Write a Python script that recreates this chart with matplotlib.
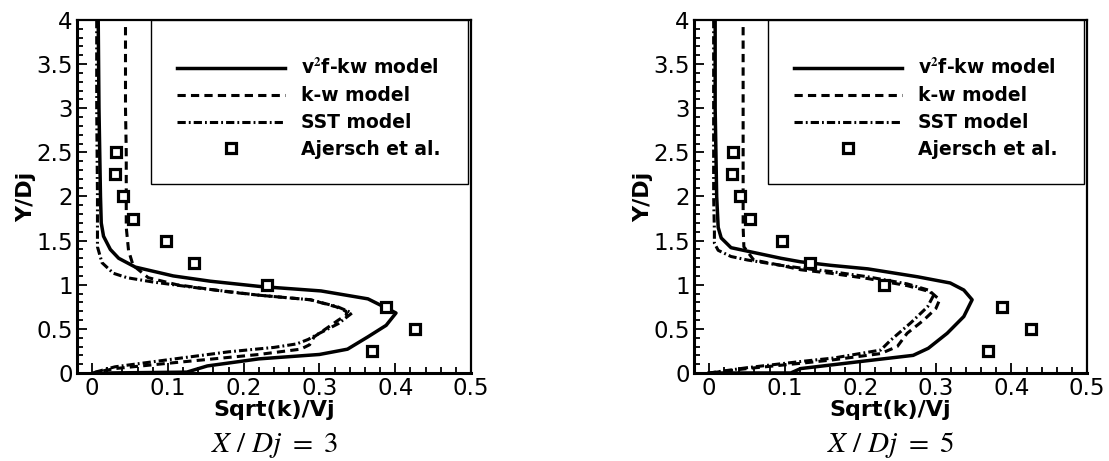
import matplotlib
matplotlib.use("Agg")
import matplotlib.pyplot as plt
from matplotlib.lines import Line2D
from matplotlib.patches import Rectangle
from matplotlib.ticker import MultipleLocator, FuncFormatter

plt.rcParams['font.family'] = ['DejaVu Sans']
plt.rcParams['mathtext.fontset'] = 'stix'

# Measured profiles (Ajersch et al.), identical at both stations
exp_y = [0.25, 0.5, 0.75, 1.0, 1.25, 1.5, 1.75, 2.0, 2.25, 2.5]
exp_k = [0.369, 0.426, 0.388, 0.231, 0.134, 0.097, 0.054, 0.041, 0.030, 0.032]

# X/Dj = 3
v2f3_k = [0.008, 0.009, 0.010, 0.011, 0.012, 0.015, 0.024, 0.035, 0.057, 0.107, 0.156,
          0.222, 0.302, 0.364, 0.385, 0.401, 0.388, 0.364, 0.337, 0.30, 0.22, 0.152,
          0.125, 0.02]
v2f3_y = [4.0, 3.0, 2.5, 2.0, 1.7, 1.55, 1.40, 1.30, 1.20, 1.10, 1.04,
          0.98, 0.93, 0.84, 0.75, 0.68, 0.54, 0.41, 0.27, 0.21, 0.16, 0.08,
          0.01, 0.0]
kw3_k = [0.044, 0.044, 0.045, 0.045, 0.045, 0.048, 0.054, 0.074, 0.112, 0.179, 0.222,
         0.288, 0.322, 0.335, 0.336, 0.325, 0.31, 0.293, 0.287, 0.275, 0.22, 0.10,
         0.03, 0.0]
kw3_y = [3.92, 3.0, 2.5, 2.0, 1.65, 1.39, 1.22, 1.08, 1.0, 0.92, 0.88,
         0.83, 0.75, 0.70, 0.66, 0.60, 0.51, 0.41, 0.32, 0.27, 0.21, 0.11,
         0.05, 0.0]
sst3_k = [0.006, 0.006, 0.007, 0.007, 0.007, 0.007, 0.013, 0.028, 0.046, 0.081, 0.143,
          0.222, 0.288, 0.324, 0.343, 0.325, 0.30, 0.285, 0.27, 0.24, 0.18, 0.10,
          0.03, 0.0]
sst3_y = [4.0, 3.0, 2.0, 1.7, 1.55, 1.43, 1.25, 1.13, 1.08, 1.03, 0.96,
          0.88, 0.83, 0.75, 0.68, 0.56, 0.45, 0.38, 0.33, 0.29, 0.24, 0.15,
          0.07, 0.0]

# X/Dj = 5
v2f5_k = [0.008, 0.008, 0.009, 0.010, 0.012, 0.016, 0.029, 0.095, 0.121, 0.161, 0.21,
          0.276, 0.319, 0.337, 0.348, 0.337, 0.315, 0.29, 0.27, 0.21, 0.121, 0.108, 0.0]
v2f5_y = [4.0, 3.0, 2.5, 2.0, 1.65, 1.53, 1.42, 1.30, 1.26, 1.22, 1.18,
          1.09, 1.02, 0.94, 0.83, 0.64, 0.45, 0.28, 0.20, 0.14, 0.05, 0.0, 0.0]
kw5_k = [0.045, 0.045, 0.045, 0.045, 0.046, 0.059, 0.095, 0.121, 0.161, 0.21, 0.262,
         0.293, 0.305, 0.30, 0.284, 0.262, 0.249, 0.227, 0.165, 0.121, 0.05, 0.0]
kw5_y = [3.92, 3.0, 2.0, 1.65, 1.43, 1.28, 1.22, 1.17, 1.13, 1.07, 0.99,
         0.92, 0.83, 0.73, 0.60, 0.45, 0.30, 0.22, 0.15, 0.11, 0.05, 0.0]
sst5_k = [0.006, 0.006, 0.006, 0.007, 0.007, 0.012, 0.029, 0.051, 0.095, 0.121, 0.161,
          0.21, 0.262, 0.29, 0.297, 0.289, 0.267, 0.24, 0.227, 0.165, 0.121, 0.05, 0.0]
sst5_y = [4.0, 3.0, 2.0, 1.6, 1.47, 1.39, 1.32, 1.28, 1.22, 1.19, 1.15,
          1.09, 1.01, 0.94, 0.88, 0.75, 0.57, 0.37, 0.26, 0.17, 0.13, 0.06, 0.0]

labels = [r'v$^\mathbf{2}$f-kw model', 'k-w model', 'SST model', 'Ajersch et al.']
captions = [r'$X\ /\ Dj\ =\ 3$', r'$X\ /\ Dj\ =\ 5$']

panels = [
    (v2f3_k, v2f3_y, kw3_k, kw3_y, sst3_k, sst3_y),
    (v2f5_k, v2f5_y, kw5_k, kw5_y, sst5_k, sst5_y),
]

W, H = 1109, 461
fig = plt.figure(figsize=(W / 100, H / 100), dpi=100)
ax_rects = [
    (77 / W, 1 - 373 / H, (471 - 77) / W, (373 - 20) / H),
    (694 / W, 1 - 373 / H, (1087 - 694) / W, (373 - 20) / H),
]

dash_kw = dict(color='black', lw=2.2, dashes=[2.7, 1.7])
dashdot_kw = dict(color='black', lw=2.2, dashes=[2.7, 1.0, 0.6, 1.0])
solid_kw = dict(color='black', lw=2.5, linestyle='-')
sq_kw = dict(linestyle='none', marker='s', ms=7.5, mfc='white', mec='black', mew=2.3)

fmt = FuncFormatter(lambda v, p: '%g' % round(v, 3))

for rect, data, cap in zip(ax_rects, panels, captions):
    ax = fig.add_axes(rect)
    vk, vy, kk, ky, sk, sy = data
    ax.plot(vk, vy, **solid_kw, solid_joinstyle='round', zorder=3)
    ax.plot(kk, ky, **dash_kw, zorder=3)
    ax.plot(sk, sy, **dashdot_kw, zorder=3)
    ax.plot(exp_k, exp_y, **sq_kw, zorder=4)

    ax.set_xlim(-0.02, 0.5)
    ax.set_ylim(0, 4)
    ax.xaxis.set_major_locator(MultipleLocator(0.1))
    ax.xaxis.set_minor_locator(MultipleLocator(0.02))
    ax.yaxis.set_major_locator(MultipleLocator(0.5))
    ax.yaxis.set_minor_locator(MultipleLocator(0.1))
    ax.xaxis.set_major_formatter(fmt)
    ax.yaxis.set_major_formatter(fmt)
    ax.tick_params(which='both', direction='in', top=False, right=False,
                   width=1.3, colors='black')
    ax.tick_params(which='major', length=7, labelsize=16.5, pad=3)
    ax.tick_params(which='minor', length=4)
    for side in ('left', 'bottom'):
        ax.spines[side].set_linewidth(2.2)
    for side in ('top', 'right'):
        ax.spines[side].set_linewidth(1.6)

    ax.set_xlabel('Sqrt(k)/Vj', fontsize=16, fontweight='bold', labelpad=0)
    ax.set_ylabel('Y/Dj', fontsize=16, fontweight='bold', labelpad=0)

    # legend frame and entries
    ax.add_patch(Rectangle((0.188, 0.535), 0.804, 0.465, transform=ax.transAxes,
                           facecolor='white', edgecolor='black', lw=1.0, zorder=5))
    handles = [Line2D([], [], **solid_kw), Line2D([], [], **dash_kw),
               Line2D([], [], **dashdot_kw), Line2D([], [], **sq_kw)]
    leg = ax.legend(handles, labels, loc='upper left', bbox_to_anchor=(0.254, 0.892),
                    frameon=False, handlelength=5.75, handletextpad=0.85,
                    labelspacing=0.42, borderpad=0, borderaxespad=0,
                    prop={'weight': 'bold', 'size': 13.5})
    leg.set_zorder(6)

    ax.text(0.5, -0.204, cap, transform=ax.transAxes, ha='center', va='center',
            fontsize=21)

fig.savefig('out.png', dpi=100)
